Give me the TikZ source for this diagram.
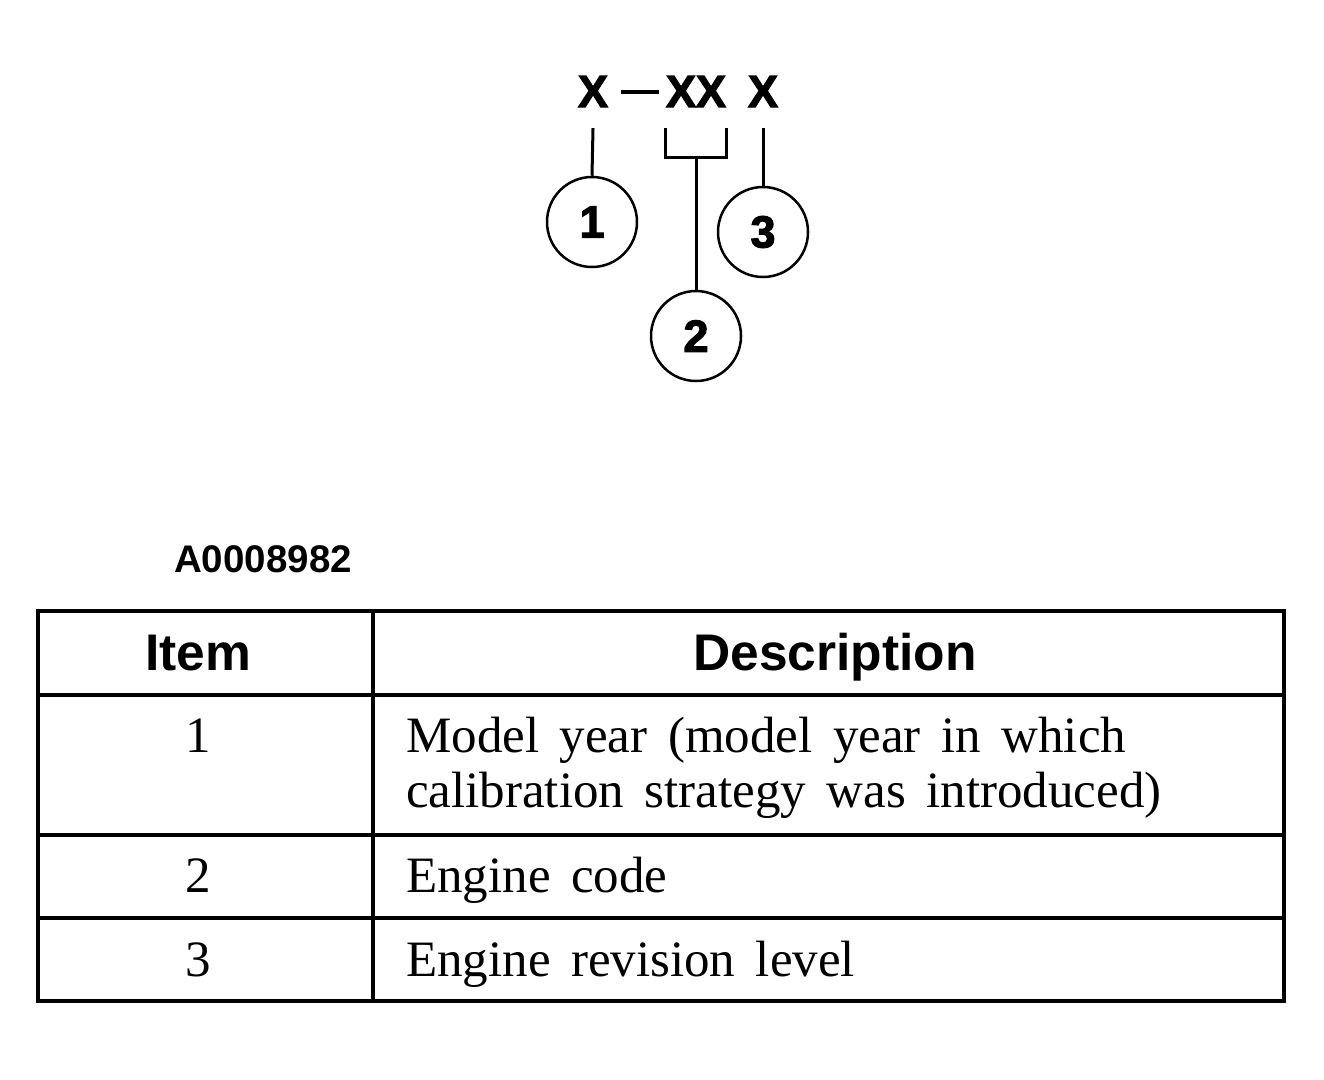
\documentclass[tikz,border=0pt]{standalone}
\usepackage{fontspec}
\setmainfont{Liberation Serif}
\newfontfamily\hsans{Liberation Sans}
\newfontfamily\hsansheavy{Liberation Sans}[BoldFeatures={FakeBold=2.5}]
\newcommand\setwidespace{\spaceskip=20.5pt plus 3pt minus 2pt\relax}
\begin{document}
\begin{tikzpicture}[x=1pt,y=-1pt,
  codetxt/.style={font=\hsansheavy\bfseries\fontsize{45}{54}\selectfont, inner xsep=0pt, inner ysep=21pt, anchor=base},
  callout/.style={circle, draw, line width=2.5pt, minimum size=90pt, inner sep=0pt, font=\hsansheavy\bfseries\fontsize{45}{54}\selectfont},
  lead/.style={line width=3pt},
  headtxt/.style={font=\hsans\bfseries\fontsize{51.5}{60}\selectfont, anchor=base, inner sep=0pt},
  bodytxt/.style={font=\fontsize{51}{55}\selectfont, execute at begin node=\setwidespace, anchor=base west, inner sep=0pt},
  numtxt/.style={font=\fontsize{51}{55}\selectfont, anchor=base, inner sep=0pt},
  outer/.style={line width=4.5pt},
  inner/.style={line width=3.5pt}]
\useasboundingbox (0,0) rectangle (1324,1079);

% code line
\node[codetxt] (x1) at (593,107) {X};
\node[codetxt] (xx) at (696,107) {XX};
\node[codetxt] (x3) at (763,107) {X};
\draw[line width=4pt, shorten <=13pt, shorten >=7pt] (x1.east) -- (xx.west |- x1.east);

% callouts
\node[callout] (c1) at (592,222) {1};
\node[callout] (c2) at (696,336) {2};
\node[callout] (c3) at (763,232) {3};
\coordinate (br) at (696,157);

\draw[lead] (x1.south) -- (c1.north);
\draw[lead] (xx.south west) |- (br) -| (xx.south east);
\draw[lead] (br) -- (c2.north);
\draw[lead] (x3.south) -- (c3.north);

% figure number
\node[font=\hsans\bfseries\fontsize{38.5}{46}\selectfont, anchor=base west, inner sep=0pt] (fig) at (174,572) {A0008982};

% table
\draw[inner] (38,695) -- (1284,695);
\draw[inner] (38,835) -- (1284,835);
\draw[inner] (38,918) -- (1284,918);
\draw[inner] (373,611) -- (373,1001);
\draw[outer] (38,611) rectangle (1284,1001);

\node[headtxt] (hitem) at (198,670) {Item};
\node[headtxt] (hdesc) at (835,670) {Description};

\node[numtxt] (n1) at (198,752) {1};
\node[bodytxt] (d1a) at (406,752) {Model year (model year in which};
\node[bodytxt] (d1b) at (406,807) {calibration strategy was introduced)};
\node[numtxt] (n2) at (198,892) {2};
\node[bodytxt] (d2) at (406,892) {Engine code};
\node[numtxt] (n3) at (198,976) {3};
\node[bodytxt] (d3) at (406,976) {Engine revision level};
\end{tikzpicture}
\end{document}
